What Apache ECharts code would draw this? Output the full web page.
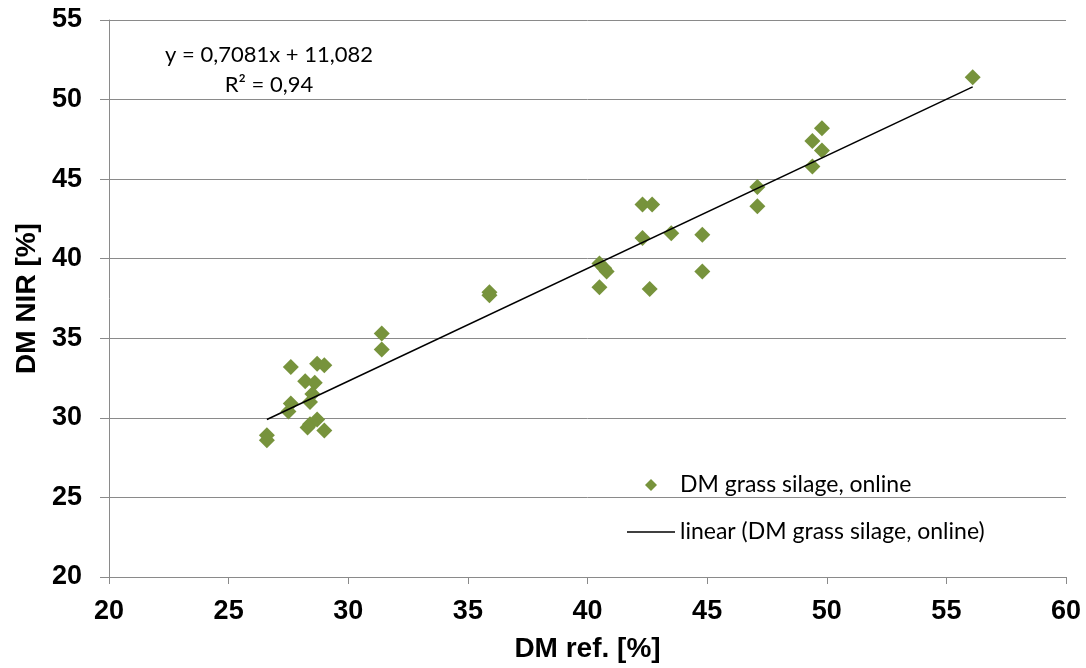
<!DOCTYPE html>
<html>
<head>
<meta charset="utf-8">
<script src="https://cdn.jsdelivr.net/npm/echarts@6/dist/echarts.min.js"></script>
<style>
  html, body { margin: 0; padding: 0; background: #fff; }
  #chart { width: 1086px; height: 668px; }
</style>
</head>
<body>
<div id="chart"></div>
<script>
// DM ref. [%] (x) / DM NIR [%] (y)
const dmRef = [
  26.6, 26.6, 27.6, 28.7, 29.0, 28.2, 28.6, 28.5, 28.4, 27.6, 27.5, 28.3, 28.4, 28.7, 29.0, 31.4, 31.4,
  35.9, 35.9,
  40.5, 40.7, 40.8, 40.5, 42.6, 42.3, 42.7, 42.3, 43.5, 44.8, 44.8,
  47.1, 47.1, 49.4, 49.8, 49.8, 49.4, 56.1
];
const dmNir = [
  28.9, 28.6, 33.2, 33.4, 33.3, 32.3, 32.2, 31.5, 31.0, 30.9, 30.4, 29.4, 29.6, 29.9, 29.2, 35.3, 34.3,
  37.9, 37.7,
  39.7, 39.4, 39.2, 38.2, 38.1, 43.4, 43.4, 41.3, 41.6, 41.5, 39.2,
  44.5, 43.3, 47.4, 48.2, 46.8, 45.8, 51.4
];
// trend line end points (y = 0,7081x + 11,082)
const trendX = [26.6, 56.1];
const trendY = [29.9, 50.8];

const xTicks = { min: 20, max: 60, step: 5 };
const yTicks = { min: 20, max: 55, step: 5 };

const scatterName = 'DM grass silage, online';
const trendName = 'linear (DM grass silage, online)';
const equationText = 'y = 0,7081x + 11,082\nR² = 0,94';

const points = dmRef.map((x, i) => [x, dmNir[i]]);
const trend = trendX.map((x, i) => [x, trendY[i]]);

const gridColor = '#8a8a8a';
const labelFont = { color: '#000', fontFamily: 'Liberation Sans', fontWeight: 'bold', fontSize: 27 };

const chart = echarts.init(document.getElementById('chart'), null, { renderer: 'canvas' });
chart.setOption({
  animation: false,
  backgroundColor: '#fff',
  grid: { left: 109, right: 20, top: 20, bottom: 89, containLabel: false },
  xAxis: {
    type: 'value',
    min: xTicks.min, max: xTicks.max, interval: xTicks.step,
    name: 'DM ref. [%]',
    nameLocation: 'middle',
    nameGap: 58,
    nameTextStyle: { ...labelFont, fontSize: 28 },
    axisLine: { show: true, lineStyle: { color: gridColor, width: 1 } },
    axisTick: { show: true, length: 7, lineStyle: { color: gridColor } },
    axisLabel: { ...labelFont, margin: 21 },
    splitLine: { show: false }
  },
  yAxis: {
    type: 'value',
    min: yTicks.min, max: yTicks.max, interval: yTicks.step,
    name: 'DM NIR [%]',
    nameLocation: 'middle',
    nameGap: 64,
    nameTextStyle: { ...labelFont, fontSize: 28 },
    axisLine: { show: true, lineStyle: { color: gridColor, width: 1 } },
    axisTick: { show: true, length: 9, lineStyle: { color: gridColor } },
    axisLabel: { ...labelFont, margin: 27 },
    splitLine: { show: true, lineStyle: { color: gridColor, width: 1 } }
  },
  legend: {
    orient: 'vertical',
    left: 622,
    top: 468,
    itemWidth: 48,
    itemHeight: 12,
    itemGap: 23,
    selectedMode: false,
    textStyle: { color: '#000', fontFamily: 'Lato', fontSize: 23, lineHeight: 24 },
    data: [
      { name: scatterName, icon: 'path://M0,-1L1,0L0,1L-1,0Z' },
      { name: trendName, icon: 'path://M0,0H48V1.5H0Z' }
    ]
  },
  graphic: [{
    type: 'text',
    x: 269,
    y: 40,
    style: {
      text: equationText,
      fill: '#000',
      font: '22px Lato',
      lineHeight: 30,
      align: 'center'
    }
  }],
  series: [
    {
      name: scatterName,
      type: 'scatter',
      data: points,
      symbol: 'diamond',
      symbolSize: 16,
      itemStyle: { color: '#77933c', opacity: 1 },
      z: 2
    },
    {
      name: trendName,
      type: 'line',
      data: trend,
      symbol: 'none',
      lineStyle: { color: '#000', width: 1.5 },
      itemStyle: { color: '#000' },
      z: 3
    }
  ]
});
</script>
</body>
</html>
